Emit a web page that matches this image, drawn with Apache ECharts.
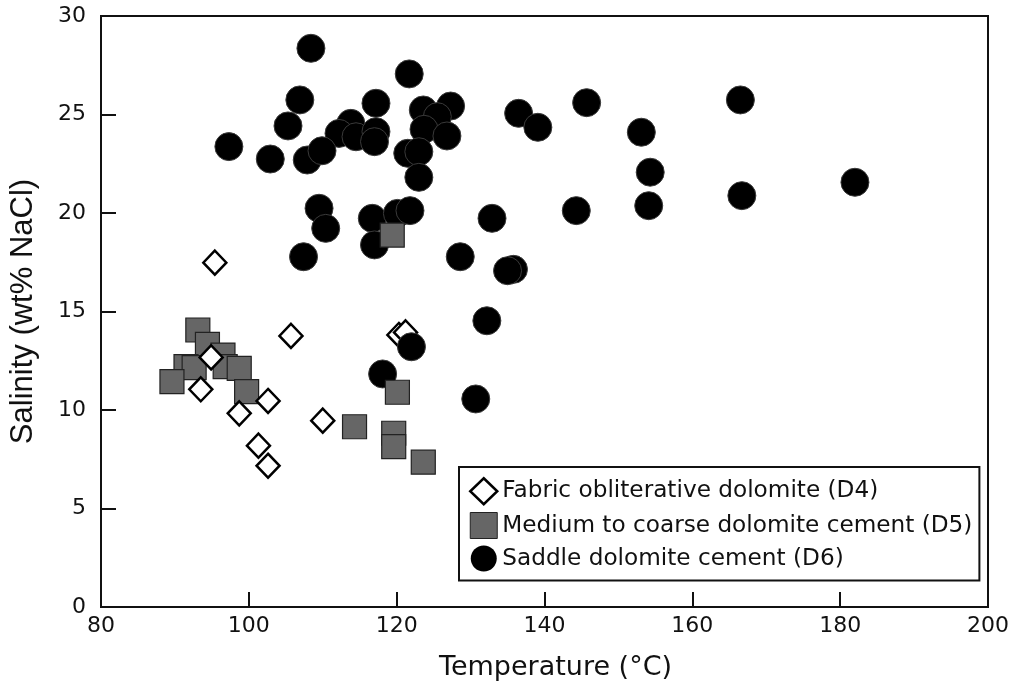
<!DOCTYPE html>
<html>
<head>
<meta charset="utf-8">
<script src="https://cdn.jsdelivr.net/npm/echarts@6/dist/echarts.min.js"></script>
<style>html,body{margin:0;padding:0;background:#fff;}#chart{width:1013px;height:693px;}</style>
</head>
<body>
<div id="chart"></div>
<script>
// Series names
const seriesNames = [
  'Fabric obliterative dolomite (D4)',
  'Medium to coarse dolomite cement (D5)',
  'Saddle dolomite cement (D6)'
];
// [Temperature (°C), Salinity (wt% NaCl)]
const d4Points = [
  [95.4,17.48],[105.7,13.76],[94.9,12.67],[93.5,11.05],[98.7,9.83],[102.6,10.46],
  [101.3,8.19],[102.6,7.17],[110.0,9.46],[120.3,13.81],[121.2,13.94]
];
const d5Points = [
  [93.1,14.06],[94.4,13.33],[96.5,12.79],[91.5,12.2],[92.6,12.15],[89.6,11.44],
  [96.8,12.2],[98.7,12.11],[99.7,10.93],[120.1,10.90],[114.3,9.15],[119.6,8.82],
  [119.6,8.14],[123.6,7.35],[119.4,18.88]
];
const d6Points = [
  [108.4,28.36],[121.7,27.06],[106.9,25.74],[117.2,25.57],[123.6,25.23],[127.3,25.43],
  [125.5,24.89],[105.3,24.42],[113.8,24.55],[112.2,24.04],[114.5,23.87],[117.2,24.13],
  [117.0,23.62],[123.7,24.25],[126.8,23.91],[97.3,23.37],[102.9,22.74],[107.9,22.69],
  [109.9,23.16],[121.5,23.03],[123.0,23.11],[123.0,21.81],[109.5,20.24],[110.4,19.22],
  [116.7,19.73],[120.1,19.98],[121.8,20.12],[117.0,18.38],[107.4,17.78],[128.6,17.78],
  [132.9,19.73],[145.7,25.6],[136.5,25.06],[139.1,24.35],[153.1,24.1],[154.3,22.07],
  [154.1,20.37],[144.3,20.12],[135.8,17.14],[135.0,17.07],[166.5,25.74],[166.7,20.88],
  [182.0,21.56],[132.2,14.53],[118.1,11.83],[130.7,10.56]
];
// D6 point drawn above the D4 diamonds
const d6OverlayPoints = [[122.0,13.21]];

const xMin = 80, xMax = 200, xStep = 20;
const yMin = 0, yMax = 30, yStep = 5;

const ink = '#111';
const chart = echarts.init(document.getElementById('chart'), null, {renderer: 'canvas'});
const circleStyle = {color: '#000', borderColor: '#3a3a3a', borderWidth: 1, opacity: 1};
chart.setOption({
  animation: false,
  backgroundColor: '#fff',
  grid: {left: 99, right: 25, top: 16, bottom: 86, show: true, borderColor: ink, borderWidth: 2, backgroundColor: 'transparent'},
  legend: {
    orient: 'vertical', left: 459, top: 467,
    padding: [10, 7, 9, 10], itemGap: 6.5, itemWidth: 27, itemHeight: 26,
    borderColor: ink, borderWidth: 2, backgroundColor: '#fff',
    textStyle: {fontFamily: 'DejaVu Sans', fontSize: 23.2, color: ink},
    data: [
      {name: seriesNames[0], icon: 'diamond', itemStyle: {color: '#fff', borderColor: '#000', borderWidth: 2.5, opacity: 1}},
      {name: seriesNames[1], icon: 'rect', itemStyle: {color: '#666', borderColor: '#222', borderWidth: 1, opacity: 1}},
      {name: seriesNames[2], icon: 'circle', itemStyle: {color: '#000', borderColor: '#000', borderWidth: 0, opacity: 1}}
    ]
  },
  xAxis: {
    type: 'value', min: xMin, max: xMax, interval: xStep,
    name: 'Temperature (°C)', nameLocation: 'middle', nameGap: 47,
    nameTextStyle: {fontFamily: 'DejaVu Sans', fontSize: 27, color: ink, padding: [0, 0, 0, 22]},
    axisLine: {show: true, lineStyle: {color: ink, width: 2}},
    axisTick: {show: true, inside: true, length: 15, lineStyle: {color: ink, width: 2}},
    axisLabel: {margin: 8, fontFamily: 'DejaVu Sans', fontSize: 22, color: ink},
    splitLine: {show: false}
  },
  yAxis: {
    type: 'value', min: yMin, max: yMax, interval: yStep,
    name: 'Salinity (wt% NaCl)', nameLocation: 'middle', nameGap: 62,
    nameTextStyle: {fontFamily: 'Liberation Sans', fontSize: 31, color: ink},
    axisLine: {show: true, lineStyle: {color: ink, width: 2}},
    axisTick: {show: true, inside: true, length: 15, lineStyle: {color: ink, width: 2}},
    axisLabel: {margin: 15, fontFamily: 'DejaVu Sans', fontSize: 22, color: ink},
    splitLine: {show: false}
  },
  series: [
    {name: seriesNames[2], type: 'scatter', data: d6Points, symbol: 'circle', symbolSize: 28, itemStyle: circleStyle, z: 2},
    {name: seriesNames[1], type: 'scatter', data: d5Points, symbol: 'rect', symbolSize: 24, itemStyle: {color: '#666', borderColor: '#222', borderWidth: 1.2, opacity: 1}, z: 3},
    {name: seriesNames[0], type: 'scatter', data: d4Points, symbol: 'diamond', symbolSize: [23, 24], itemStyle: {color: '#fff', borderColor: '#000', borderWidth: 2.5, opacity: 1}, z: 4},
    {name: seriesNames[2], type: 'scatter', data: d6OverlayPoints, symbol: 'circle', symbolSize: 28, itemStyle: circleStyle, z: 5}
  ]
});
</script>
</body>
</html>
